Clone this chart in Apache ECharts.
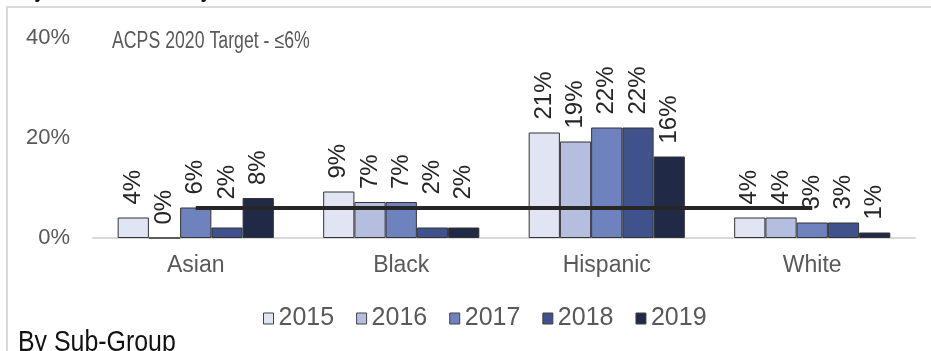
<!DOCTYPE html>
<html>
<head>
<meta charset="utf-8">
<script src="https://cdn.jsdelivr.net/npm/echarts@6/dist/echarts.min.js"></script>
<style>
html,body{margin:0;padding:0;background:#fff;}
#chart{width:931px;height:351px;}
</style>
</head>
<body>
<div id="chart"></div>
<script>
const categories = ['Asian', 'Black', 'Hispanic', 'White'];
const years = ['2015', '2016', '2017', '2018', '2019'];
const values2015 = [4.1, 9.3, 21.1, 4.1];
const values2016 = [0, 7.2, 19.3, 4.1];
const values2017 = [6.1, 7.2, 22.1, 3.1];
const values2018 = [2.1, 2.1, 22.1, 3.1];
const values2019 = [8.0, 2.1, 16.3, 1.1];
const targetValues = [6, 6, 6, 6];
const yTicks = [0, 20, 40];
const targetText = 'ACPS 2020 Target - \u22646%';
const bottomTitle = 'By Sub-Group';
const topTitle = 'By Race/Ethnicity';

const seriesValues = [values2015, values2016, values2017, values2018, values2019];
const colors = ['#e1e4f2', '#b5bedf', '#6e82be', '#40528c', '#202946'];
const sans = '"Liberation Sans", Arial, sans-serif';
const baseDistance = 13;
// labels that were lifted above the target line in the original (series index, category index, extra px)
const liftedLabels = [[3, 0, 15], [3, 1, 20], [4, 1, 15]];

const chart = echarts.init(document.getElementById('chart'), null, {renderer: 'canvas'});

const barSeries = years.map((y, i) => ({
  name: y,
  type: 'bar',
  data: seriesValues[i].map((v, j) => {
    const lift = liftedLabels.find(l => l[0] === i && l[1] === j);
    return lift ? {value: v, label: {distance: baseDistance + lift[2]}} : v;
  }),
  barGap: '0%',
  barCategoryGap: '24%',
  itemStyle: {color: colors[i], borderColor: '#333333', borderWidth: 1},
  label: {
    show: true,
    position: 'top',
    rotate: 90,
    align: 'left',
    verticalAlign: 'middle',
    distance: baseDistance,
    fontFamily: sans,
    fontSize: 24,
    color: '#262626',
    formatter: p => Math.round(p.value) + '%'
  },
  z: 2
}));

chart.setOption({
  animation: false,
  backgroundColor: '#ffffff',
  grid: {left: 93, right: 16, top: 38, bottom: 113, containLabel: false},
  legend: {
    data: years,
    left: 263,
    top: 306,
    padding: 0,
    itemWidth: 10,
    itemHeight: 11,
    itemGap: 22,
    icon: 'rect',
    itemStyle: {borderColor: '#404040', borderWidth: 1},
    textStyle: {fontFamily: sans, fontSize: 25, color: '#595959'}
  },
  xAxis: {
    type: 'category',
    data: categories,
    axisLine: {show: true, lineStyle: {color: '#d9d9d9', width: 2}},
    axisTick: {show: false},
    axisLabel: {fontFamily: sans, fontSize: 23, color: '#595959', margin: 16}
  },
  yAxis: {
    type: 'value',
    min: yTicks[0],
    max: yTicks[yTicks.length - 1],
    interval: yTicks[1] - yTicks[0],
    splitLine: {show: false},
    axisLine: {show: false},
    axisTick: {show: false},
    axisLabel: {fontFamily: sans, fontSize: 22, color: '#595959', margin: 23, formatter: '{value}%'}
  },
  series: barSeries.concat([{
    name: 'Target',
    type: 'line',
    data: targetValues,
    symbol: 'none',
    lineStyle: {color: '#262626', width: 4},
    itemStyle: {color: '#262626'},
    z: 10,
    silent: true
  }]),
  graphic: [
    {type: 'rect', z: -10, shape: {x: 7, y: 7, width: 1000, height: 500},
     style: {fill: 'none', stroke: '#d9d9d9', lineWidth: 2}},
    {type: 'text', x: 112, y: 42, scaleX: 0.77, z: 5,
     style: {text: targetText, fontFamily: sans, fontSize: 23, fill: '#595959', verticalAlign: 'middle'}},
    {type: 'text', x: 18, y: 342.5, scaleX: 0.83, z: 5,
     style: {text: bottomTitle, fontFamily: sans, fontSize: 30, fill: '#111111', verticalAlign: 'middle'}},
    {type: 'text', x: 18, y: -12, scaleX: 0.83, z: 5,
     style: {text: topTitle, fontFamily: sans, fontSize: 30, fill: '#111111', verticalAlign: 'middle'}}
  ]
});
</script>
</body>
</html>
